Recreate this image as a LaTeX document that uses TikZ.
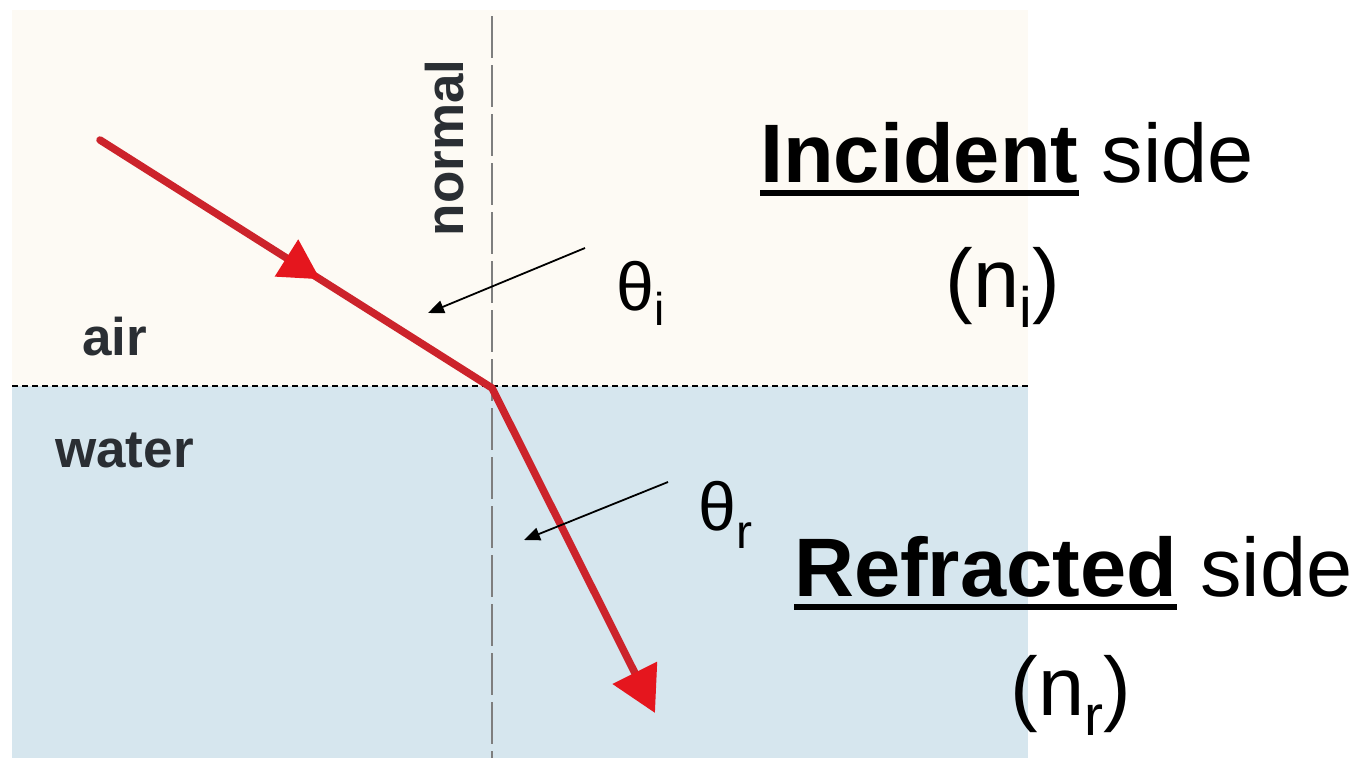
\documentclass[tikz,border=0pt]{standalone}
\usepackage{fontspec}
\setmainfont{Liberation Sans}
\usetikzlibrary{arrows.meta,decorations.markings}
\definecolor{airbg}{HTML}{FDFAF4}
\definecolor{waterbg}{HTML}{D6E6EE}
\definecolor{rayred}{HTML}{CC232B}
\definecolor{headred}{HTML}{E5161E}
\definecolor{normalgray}{HTML}{7E7E7E}
\definecolor{labelink}{HTML}{2A2E33}
\newcommand{\fsz}[1]{\fontsize{#1}{#1}\selectfont}
\begin{document}
\begin{tikzpicture}[x=1pt,y=-1pt,
  raystyle/.style={rayred, line width=7.5pt, line cap=round, line join=round},
  pointer/.style={black, line width=1.8pt, -{Triangle[length=16pt,width=13pt]}},
  medium/.style={font=\fsz{53}\bfseries, text=labelink, inner sep=0pt},
  bigtext/.style={font=\fsz{83}, inner sep=0pt},
  angletext/.style={font=\fsz{68}, inner sep=0pt},
  uline/.style={line width=6pt}
]
\useasboundingbox (0,0) rectangle (1367,761);
\fill[white] (0,0) rectangle (1367,761);
% media
\fill[airbg] (12,10) rectangle (1028,386);
\fill[waterbg] (12,386) rectangle (1028,758);
% normal
\coordinate (nrmtop) at (492,16);
\coordinate (nrmbot) at (492,758);
\draw[normalgray, line width=2pt, dash pattern=on 42pt off 7pt] (nrmtop) -- (nrmbot);
% boundary
\coordinate (bl) at (12,386);
\coordinate (br) at (1028,386);
\draw[black, line width=1.6pt, dash pattern=on 6pt off 4pt] (bl) -- (br);
% ray
\coordinate (src) at (100,140);
\coordinate (hit) at (492,388);
\coordinate (dst) at (655,713);
\draw[raystyle, -{Triangle[length=45pt,width=48pt,color=headred]},
  postaction={decorate},
  decoration={markings, mark=at position 0.315 with {\arrow{Triangle[length=40pt,width=42pt,color=headred]}}}]
  (src) -- (hit) -- (dst);
% labels in picture
\node[medium, rotate=90, anchor=base] (nlab) at (463,148) {normal};
\node[medium, anchor=base west] (air) at (82,355) {air};
\node[medium, anchor=base west] (water) at (55,467) {water};
% angle labels and pointers
\node[angletext, anchor=base west] (thi) at (616,310) {θ\raisebox{-15pt}{\fsz{46}i}};
\node[angletext, anchor=base west] (thr) at (698,530) {θ\raisebox{-18pt}{\fsz{48}r}};
\coordinate (pis) at (585,248);
\coordinate (pie) at (428,313);
\coordinate (prs) at (668,482);
\coordinate (pre) at (524,540);
\draw[pointer] (pis) -- (pie);
\draw[pointer] (prs) -- (pre);
% side labels
\node[bigtext, anchor=base west] (incw) at (760,182) {\bfseries Incident};
\node[bigtext, anchor=base west] (incs) at ([xshift=23pt]incw.base east) {side};
\draw[uline] ([yshift=-11pt]incw.base west) -- ([yshift=-11pt]incw.base east);
\node[bigtext, anchor=base] (ni) at (1003,307) {(n\raisebox{-20pt}{\fsz{57}i})};
\node[bigtext, anchor=base west] (refw) at (794,596) {\bfseries Refracted};
\node[bigtext, anchor=base west] (refs) at ([xshift=23pt]refw.base east) {side};
\draw[uline] ([yshift=-11pt]refw.base west) -- ([yshift=-11pt]refw.base east);
\node[bigtext, anchor=base] (nr) at (1071,715) {(n\raisebox{-20pt}{\fsz{57}r})};
\end{tikzpicture}
\end{document}
